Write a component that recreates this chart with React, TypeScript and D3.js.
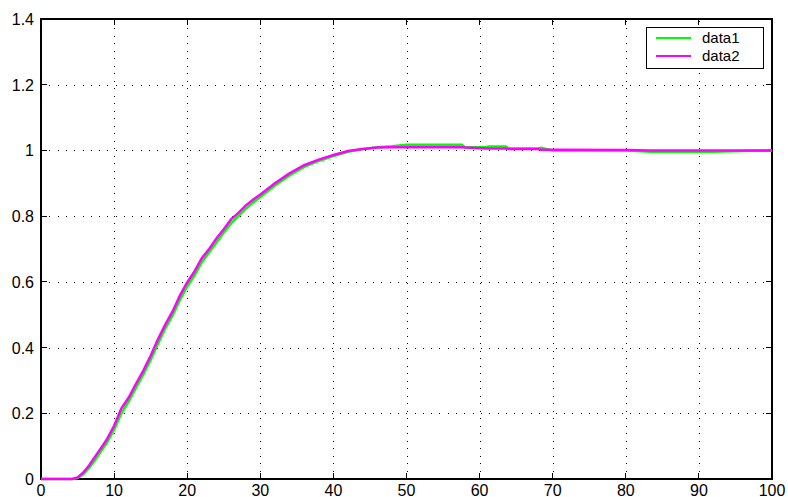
import React from "react";
import * as d3 from "d3";

// sample times (x axis)
const times = [0, 4.3, 5, 5.8, 6.6, 7.4, 8.2, 9, 10, 11, 12, 13, 14, 15, 16, 17, 18, 19, 20, 21, 22, 23, 24, 25, 26, 27, 28, 29, 30, 32, 34, 36, 38, 40, 42, 44, 46, 48, 50, 55, 57.6, 58, 61, 61.2, 63.6, 64, 68, 68.4, 70, 80, 83.4, 92, 100];

// data1 (green) - lags slightly behind data2
const data1 = [0, 0, 0.003, 0.014, 0.034, 0.058, 0.084, 0.11, 0.15, 0.2, 0.236, 0.278, 0.318, 0.362, 0.412, 0.458, 0.498, 0.545, 0.586, 0.62, 0.66, 0.69, 0.72, 0.75, 0.778, 0.8, 0.822, 0.841, 0.858, 0.893, 0.924, 0.95, 0.968, 0.983, 0.996, 1.004, 1.01, 1.013, 1.017, 1.017, 1.017, 1.01, 1.01, 1.012, 1.012, 1.006, 1.006, 1.008, 1.0, 1.0, 0.996, 0.996, 1.0];

// data2 (magenta)
const data2 = [0, 0, 0.005, 0.02, 0.042, 0.068, 0.094, 0.12, 0.162, 0.215, 0.248, 0.29, 0.33, 0.375, 0.425, 0.47, 0.51, 0.558, 0.598, 0.632, 0.672, 0.7, 0.732, 0.76, 0.79, 0.81, 0.832, 0.85, 0.866, 0.9, 0.93, 0.955, 0.972, 0.986, 0.998, 1.004, 1.009, 1.01, 1.01, 1.01, 1.01, 1.009, 1.006, 1.006, 1.006, 1.004, 1.004, 1.002, 1.002, 1.001, 1.0, 1.0, 1.0];

const xTicks = [0, 10, 20, 30, 40, 50, 60, 70, 80, 90, 100];
const yTicks = [0, 0.2, 0.4, 0.6, 0.8, 1, 1.2, 1.4];

const seriesNames = ["data1", "data2"];
const seriesColors = ["#00ff00", "#ff00ff"];

export default function App() {
  const width = 788;
  const height = 497;
  const margin = { top: 19, right: 16, bottom: 18, left: 41 };

  const x = d3.scaleLinear().domain([0, 100]).range([margin.left, width - margin.right]);
  const y = d3.scaleLinear().domain([0, 1.4]).range([height - margin.bottom, margin.top]);

  const line = d3
    .line<number>()
    .x((_, i) => x(times[i]))
    .y((d) => y(d));

  const font = "'Liberation Sans', Arial, sans-serif";
  const tick = 6;
  const x0 = x(0), x1 = x(100), y0 = y(0), y1 = y(1.4);

  return (
    <svg
      width={width}
      height={height}
      style={{ position: "absolute", left: 0, top: 0, background: "#fff" }}
    >
      <rect x={0} y={0} width={width} height={height} fill="#fff" />

      {/* grid */}
      <g stroke="#000" strokeWidth={1} strokeDasharray="1,6.5" shapeRendering="crispEdges">
        {xTicks.slice(1, -1).map((t) => (
          <line key={"gx" + t} x1={Math.round(x(t)) + 0.5} x2={Math.round(x(t)) + 0.5} y1={y0} y2={y1} />
        ))}
        {yTicks.slice(1, -1).map((t) => (
          <line key={"gy" + t} x1={x0} x2={x1} y1={Math.round(y(t)) + 0.5} y2={Math.round(y(t)) + 0.5} strokeDasharray="1,7.3" />
        ))}
      </g>

      {/* ticks */}
      <g stroke="#000" strokeWidth={1} shapeRendering="crispEdges">
        {xTicks.map((t) => (
          <g key={"tx" + t}>
            <line x1={x(t)} x2={x(t)} y1={y0} y2={y0 - tick} />
            <line x1={x(t)} x2={x(t)} y1={y1} y2={y1 + tick} />
          </g>
        ))}
        {yTicks.map((t) => (
          <g key={"ty" + t}>
            <line x1={x0} x2={x0 + tick} y1={y(t)} y2={y(t)} />
            <line x1={x1} x2={x1 - tick} y1={y(t)} y2={y(t)} />
          </g>
        ))}
      </g>

      {/* axes box */}
      <rect x={x0} y={y1} width={x1 - x0} height={y0 - y1} fill="none" stroke="#000" strokeWidth={2} />

      {/* data lines, drawn over the axes like the original */}
      {[data1, data2].map((d, i) => (
        <path key={seriesNames[i]} d={line(d) || ""} fill="none" stroke={seriesColors[i]} strokeWidth={2.5} />
      ))}

      {/* tick labels */}
      <g fontFamily={font} fontSize={16} fill="#000">
        {xTicks.map((t) => (
          <text key={"lx" + t} x={x(t)} y={496} textAnchor="middle">
            {t}
          </text>
        ))}
        {yTicks.map((t) => (
          <text key={"ly" + t} x={x0 - 7} y={y(t) + 6} textAnchor="end">
            {t}
          </text>
        ))}
      </g>

      {/* legend */}
      <g>
        <rect x={646.5} y={27.5} width={117} height={41} fill="#fff" stroke="#000" strokeWidth={1} />
        {seriesNames.map((n, i) => (
          <g key={"lg" + n}>
            <line x1={656} x2={691} y1={38 + i * 18} y2={38 + i * 18} stroke={seriesColors[i]} strokeWidth={2} />
            <text x={702} y={43 + i * 18} fontFamily={font} fontSize={15} fill="#000">
              {n}
            </text>
          </g>
        ))}
      </g>
    </svg>
  );
}
